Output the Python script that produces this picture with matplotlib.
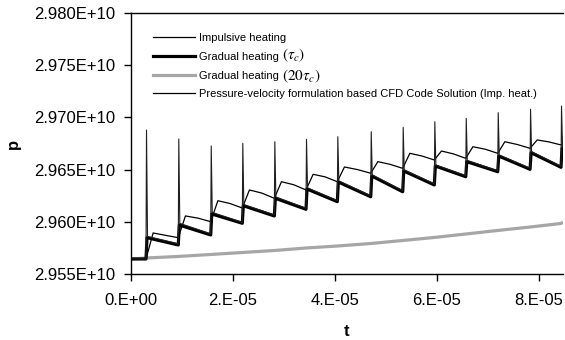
import matplotlib
matplotlib.use('Agg')
import matplotlib.pyplot as plt
from matplotlib.ticker import FuncFormatter, MultipleLocator
from matplotlib.lines import Line2D

plt.rcParams['font.family'] = ['Liberation Sans', 'DejaVu Sans']
plt.rcParams['mathtext.fontset'] = 'stix'

# ---------------- data (p in units of 1E+10, t in s) ----------------
p_initial = 2.95644
t_end = 8.47e-5
jump_t = [2.94e-6, 9.27e-6, 1.563e-5, 2.182e-5, 2.810e-5, 3.431e-5, 4.045e-5,
          4.700e-5, 5.327e-5, 5.947e-5, 6.563e-5, 7.190e-5, 7.824e-5, 8.431e-5]
spike_peak = [2.96879, 2.96793, 2.96726, 2.96752, 2.96767, 2.96790, 2.96815,
              2.96863, 2.96905, 2.96959, 2.96991, 2.97045, 2.97078, 2.97109]
# gradual heating (tau_c): value right after each jump / right before next jump
grad_hi = [2.95848, 2.95969, 2.96075, 2.96154, 2.96225, 2.96314, 2.96381,
           2.96439, 2.96487, 2.96534, 2.96576, 2.96630, 2.96662, 2.96707]
grad_lo = [2.95778, 2.95874, 2.95986, 2.96056, 2.96120, 2.96193, 2.96240,
           2.96288, 2.96353, 2.96432, 2.96480, 2.96503, 2.96522]
# impulsive heating (thin line following the thick one)
imp_hi = [2.95860, 2.95985, 2.96090, 2.96165, 2.96238, 2.96325, 2.96392,
          2.96450, 2.96498, 2.96545, 2.96588, 2.96640, 2.96672, 2.96715]
imp_lo = [2.95790, 2.95885, 2.95995, 2.96066, 2.96130, 2.96203, 2.96250,
          2.96298, 2.96363, 2.96442, 2.96490, 2.96513, 2.96532]
# CFD code solution (upper smooth thin line): after jump / mid-cycle / before next jump
cfd_hi = [2.95893, 2.96056, 2.96202, 2.96305, 2.96384, 2.96455, 2.96525,
          2.96576, 2.96656, 2.96678, 2.96719, 2.96767, 2.96784, 2.96812]
cfd_mid = [2.95870, 2.96035, 2.96175, 2.96275, 2.96355, 2.96430, 2.96500,
           2.96550, 2.96630, 2.96650, 2.96695, 2.96740, 2.96765]
cfd_lo = [2.95848, 2.96001, 2.96132, 2.96225, 2.96305, 2.96384, 2.96465,
          2.96512, 2.96592, 2.96608, 2.96656, 2.96704, 2.96736]
# gradual heating (20 tau_c) values at the jump times
slow_p = [2.95653, 2.95668, 2.95687, 2.95706, 2.95725, 2.95749, 2.95768,
          2.95792, 2.95821, 2.95850, 2.95883, 2.95917, 2.95950, 2.95984]
slow_end = 2.95998

labels = ['Impulsive heating', 'Gradual heating', 'Gradual heating',
          'Pressure-velocity formulation based CFD Code Solution (Imp. heat.)']
label_math = [None, r'$(\tau_c)$', r'$(20\tau_c)$', None]

# ---------------- build poly-lines ----------------
n = len(jump_t)
E = 1e10

def build(hi, lo, rise, spikes=None, mid=None):
    t = [0.0, jump_t[0]]
    p = [p_initial, p_initial]
    for i in range(n):
        if spikes is not None:
            t += [jump_t[i] + 1.0e-7, jump_t[i] + 3.0e-7]
            p += [spikes[i], hi[i]]
        else:
            t.append(jump_t[i] + rise)
            p.append(hi[i])
        if i < n - 1:
            if mid is not None:
                t.append(0.5 * (jump_t[i] + rise + jump_t[i + 1]))
                p.append(mid[i])
            t.append(jump_t[i + 1])
            p.append(lo[i])
        else:
            t.append(t_end)
            p.append(hi[i])
    return t, [v * E for v in p]

t_grad, p_grad = build(grad_hi, grad_lo, 2.0e-7)
t_imp, p_imp = build(imp_hi, imp_lo, 0, spikes=spike_peak)
t_cfd, p_cfd = build(cfd_hi, cfd_lo, 1.4e-6, mid=cfd_mid)
t_slow = [0.0] + jump_t + [t_end]
p_slow = [p_initial * E] + [v * E for v in slow_p] + [slow_end * E]

# ---------------- figure ----------------
fig = plt.figure(figsize=(5.65, 3.4), dpi=100)
ax = fig.add_axes([131 / 565, 1 - 274 / 340, 432 / 565, 261 / 340])

ax.plot(t_slow, p_slow, color='#a6a6a6', lw=2.3, solid_capstyle='butt')
ax.plot(t_grad, p_grad, color='black', lw=2.3)
ax.plot(t_cfd, p_cfd, color='black', lw=0.9)
ax.plot(t_imp, p_imp, color='#202020', lw=0.8)

ax.set_xlim(0, t_end)
ax.set_ylim(2.955e10, 2.980e10)
ax.xaxis.set_major_locator(MultipleLocator(2e-5))
ax.yaxis.set_major_locator(MultipleLocator(5e7))
ax.xaxis.set_major_formatter(FuncFormatter(lambda v, _: '%#.0E' % (0 if abs(v) < 1e-12 else v)))
ax.yaxis.set_major_formatter(FuncFormatter(lambda v, _: '%.3E' % v))
ax.tick_params(axis='both', direction='out', length=5, width=1, labelsize=12, colors='black')
ax.tick_params(axis='x', pad=9)
ax.tick_params(axis='y', pad=6.5)
ax.spines['right'].set_visible(False)
for s in ['left', 'bottom', 'top']:
    ax.spines[s].set_linewidth(1.0)

ax.set_xlabel('t', fontweight='bold', fontsize=12, labelpad=11)
ax.set_ylabel('p', fontweight='bold', fontsize=12, labelpad=9)

handles = [Line2D([], [], color='black', lw=0.9),
           Line2D([], [], color='black', lw=2.3),
           Line2D([], [], color='#a6a6a6', lw=2.3),
           Line2D([], [], color='black', lw=0.9)]
leg = ax.legend(handles, labels, loc='upper left', bbox_to_anchor=(0.051, 0.922),
                frameon=False, fontsize=8, handlelength=3.8, handletextpad=0.3,
                labelspacing=0.78, borderpad=0, borderaxespad=0)

fig.canvas.draw()
renderer = fig.canvas.get_renderer()
W, H = fig.bbox.width, fig.bbox.height
for txt, extra in zip(leg.get_texts(), label_math):
    if extra is None:
        continue
    bb = txt.get_window_extent(renderer)
    dy = -2.5 if '20' in extra else 0
    fig.text((bb.x1 + 4) / W, (bb.y0 + 2.4 + dy) / H, extra, fontsize=11,
             ha='left', va='baseline')

fig.savefig('out.png', dpi=100)
